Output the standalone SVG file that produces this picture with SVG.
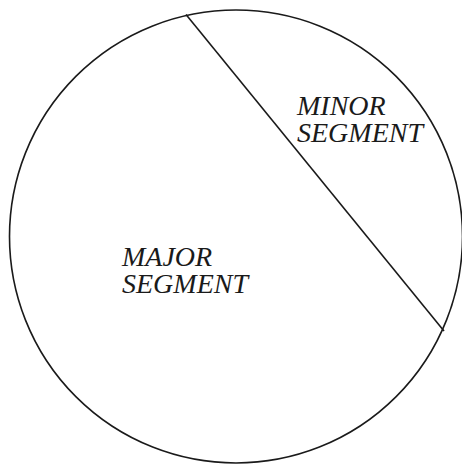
<svg xmlns="http://www.w3.org/2000/svg" width="462" height="465" viewBox="0 0 462 465">
<style>
.s{fill:none;stroke:#1a1a1a;stroke-width:1.6}
.t{font-family:"Liberation Serif",serif;font-style:italic;font-size:28px;fill:#1a1a1a}
</style>
<rect width="462" height="465" fill="#fff"/>
<g id="circle"><circle class="s" cx="236" cy="236.5" r="226.5"/></g>
<g id="connectors"><line class="s" x1="186" y1="14.5" x2="444" y2="331"/></g>
<g id="minor"><text class="t" x="297" y="115">MINOR</text><text class="t" x="297" y="142">SEGMENT</text></g>
<g id="major"><text class="t" x="122" y="266">MAJOR</text><text class="t" x="122" y="293">SEGMENT</text></g>
</svg>
